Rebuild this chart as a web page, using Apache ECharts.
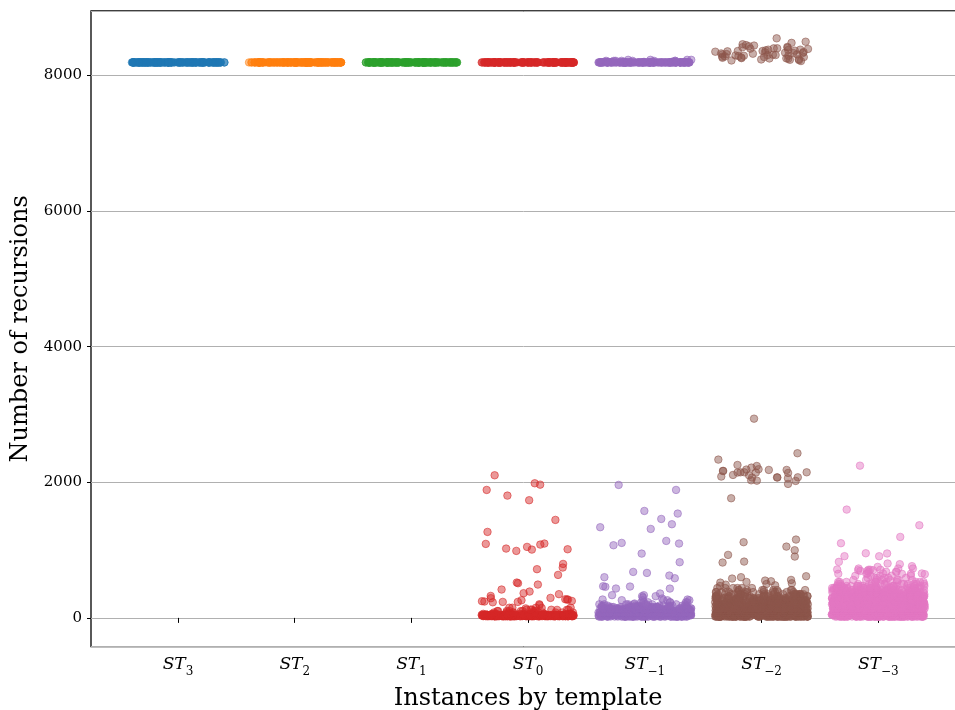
<!DOCTYPE html>
<html><head><meta charset="utf-8">
<script src="https://cdn.jsdelivr.net/npm/echarts@6/dist/echarts.min.js"></script>
<style>html,body{margin:0;padding:0;background:#fff}#c{width:955px;height:710px}</style>
</head><body><div id="c"></div>
<script>
// Categories (template name, subscript)
const categories = [['ST','3'],['ST','2'],['ST','1'],['ST','0'],['ST','\u22121'],['ST','\u22122'],['ST','\u22123']];
const xTitle = 'Instances by template';
const yTitle = 'Number of recursions';
const yMin = -425, yMax = 8950;

// Dense groups: [value, count]; outliers: single values
const st3Groups = [[8192,150]];
const st2Groups = [[8192,150]];
const st1Groups = [[8192,150]];
const st0Groups = [[8192,150],[25,80],[35,120],[45,80],[60,20],[80,10],[100,8],[120,5],[150,4]];
const st0Outliers = [2103,1985,1965,1887,1803,1735,1445,1268,1096,1091,1081,1047,1022,1012,1007,988,796,742,718,634,521,511,491,418,388,364,350,324,295,290,275,270,270,260,250,246,241,236,236,230,200,187,147,140,124,118];
const stm1Groups = [[8192,130],[8200,10],[8215,8],[8230,4],[20,60],[40,80],[60,80],[80,70],[100,60],[120,45],[140,35],[160,25],[180,15],[200,10],[230,6],[260,4]];
const stm1Outliers = [1961,1887,1577,1538,1459,1381,1337,1312,1135,1106,1096,1071,948,821,678,663,624,600,585,467,462,458,433,432,360,335,335,320,320,301,286,271,271,261,227,212];
const stm2Groups = [[20,90],[50,100],[80,100],[110,90],[140,80],[170,70],[200,60],[230,50],[260,40],[290,30],[320,25],[350,20],[380,15],[410,10],[440,6]];
const stm2Top = [8547,8497,8480,8460,8448,8440,8430,8420,8415,8410,8400,8399,8395,8390,8380,8380,8375,8370,8365,8360,8360,8355,8350,8345,8340,8335,8330,8330,8325,8320,8315,8310,8310,8305,8300,8300,8295,8290,8290,8285,8280,8275,8270,8270,8265,8260,8255,8252,8250,8245,8240,8235,8230,8225,8220,8212];
const stm2Outliers = [2938,2428,2334,2255,2240,2216,2192,2187,2182,2182,2168,2165,2147,2147,2147,2143,2143,2138,2108,2103,2084,2073,2073,2069,2069,2060,2029,2024,2020,1976,1764,1155,1116,1051,998,929,904,830,816,614,600,580,560,550,540,530,520,510,500,490,480,470];
const stm3Groups = [[20,80],[50,90],[80,90],[110,90],[140,85],[170,80],[200,75],[230,70],[260,65],[290,60],[320,55],[350,50],[380,45],[410,35],[440,28],[470,20],[500,14],[530,10],[560,8],[590,6],[620,5],[650,4],[680,3],[710,3]];
const stm3Outliers = [2245,1597,1366,1194,1101,953,950,910,909,826,802,792,763,752,728,728,728,714,704,704,693,693,679,655,655,655,645];

const colors = ['#1f77b4','#ff7f0e','#2ca02c','#d62728','#9467bd','#8c564b','#e377c2'];

function expand(groups){ const out=[]; groups.forEach(([v,n])=>{ for(let k=0;k<n;k++) out.push(v); }); return out; }
const seriesValues = [
  expand(st3Groups),
  expand(st2Groups),
  expand(st1Groups),
  expand(st0Groups).concat(st0Outliers),
  expand(stm1Groups).concat(stm1Outliers),
  expand(stm2Groups).concat(stm2Top, stm2Outliers),
  expand(stm3Groups).concat(stm3Outliers)
];

function rgba(hex,a){ const n=parseInt(hex.slice(1),16); return 'rgba('+(n>>16&255)+','+(n>>8&255)+','+(n&255)+','+a+')'; }

const serif = 'DejaVu Serif';
const chart = echarts.init(document.getElementById('c'), null, {renderer:'canvas'});
const labelNames = categories.map(c => c[0] + '|' + c[1]);

chart.setOption({
  animation: false,
  backgroundColor: '#ffffff',
  grid: [
    {left: 91, top: 11, right: -10, bottom: 63.3, show: true, borderColor: '#000', borderWidth: 1.3, backgroundColor: 'transparent', containLabel: false, outerBoundsMode: 'none'},
    {left: 119.65, top: 11, right: 18.35, bottom: 63.3, containLabel: false, outerBoundsMode: 'none'}
  ],
  xAxis: [
    {type: 'value', gridIndex: 0, show: false, min: 0, max: 1},
    {type: 'category', gridIndex: 1, data: labelNames, boundaryGap: true,
     jitter: 93, jitterOverlap: true,
     axisLine: {show: false},
     axisTick: {show: true, alignWithLabel: true, length: 5, lineStyle: {color: '#000', width: 1}},
     splitLine: {show: false},
     axisLabel: {margin: 9, interval: 0,
       formatter: function(v){ const p = v.split('|'); return '{a|' + p[0] + '}{b|' + p[1] + '}'; },
       rich: {
         a: {fontFamily: serif, fontStyle: 'italic', fontSize: 17, lineHeight: 20, color: '#000', verticalAlign: 'top'},
         b: {fontFamily: serif, fontSize: 12, lineHeight: 12, color: '#000', padding: [10,0,0,0], verticalAlign: 'top'}
       }},
     name: xTitle, nameLocation: 'middle', nameGap: 40,
     nameTextStyle: {fontFamily: serif, fontSize: 24, color: '#000'}
    }
  ],
  yAxis: [
    {type: 'value', gridIndex: 0, min: yMin, max: yMax, splitNumber: 5,
     axisLine: {show: false},
     axisTick: {show: true, length: 4, lineStyle: {color: '#000', width: 1}},
     splitLine: {show: true, lineStyle: {color: '#b0b0b0', width: 1}},
     axisLabel: {showMinLabel: false, showMaxLabel: false, margin: 9, fontFamily: serif, fontSize: 15, color: '#000',
       formatter: function(v){ return String(v); }},
     name: yTitle, nameLocation: 'middle', nameGap: 56,
     nameTextStyle: {fontFamily: serif, fontSize: 24, color: '#000'}
    },
    {type: 'value', gridIndex: 1, min: yMin, max: yMax, show: false, splitLine: {show: false}}
  ],
  series: seriesValues.map((vals, i) => ({
    type: 'scatter', xAxisIndex: 1, yAxisIndex: 1,
    symbol: 'circle', symbolSize: 7.5, large: false,
    itemStyle: {color: rgba(colors[i], 0.6), borderColor: rgba(colors[i], 0.7), borderWidth: 1},
    emphasis: {disabled: true},
    data: vals.map(v => [i, v])
  }))
});
</script>
</body></html>
